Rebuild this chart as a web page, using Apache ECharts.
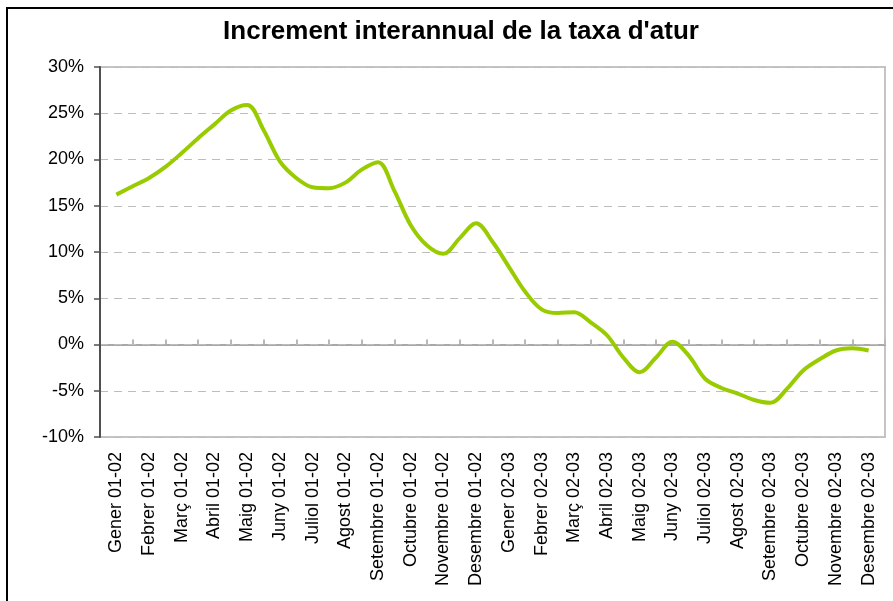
<!DOCTYPE html>
<html>
<head>
<meta charset="utf-8">
<script src="https://cdn.jsdelivr.net/npm/echarts@6/dist/echarts.min.js"></script>
<style>
html,body{margin:0;padding:0;background:#fff;}
#chart{width:893px;height:601px;}
</style>
</head>
<body>
<div id="chart"></div>
<script>
// Month labels (category axis)
var months = [
  "Gener 01-02","Febrer 01-02","Març 01-02","Abril 01-02","Maig 01-02","Juny 01-02",
  "Juliol 01-02","Agost 01-02","Setembre 01-02","Octubre 01-02","Novembre 01-02","Desembre 01-02",
  "Gener 02-03","Febrer 02-03","Març 02-03","Abril 02-03","Maig 02-03","Juny 02-03",
  "Juliol 02-03","Agost 02-03","Setembre 02-03","Octubre 02-03","Novembre 02-03","Desembre 02-03"
];
// Values (%) read every half month, starting at "Gener 01-02"
var increment = [
  16.2, 17.1, 18.0, 19.2, 20.7, 22.3, 23.8, 25.3, 25.9, 23.2,
  19.8, 18.0, 17.0, 16.9, 17.5, 18.9, 19.7, 16.6, 12.9, 10.7,
  9.8, 11.5, 13.1, 11.1, 8.4, 5.7, 3.8, 3.4, 3.5, 2.4,
  1.0, -1.4, -3.0, -1.4, 0.3, -1.2, -3.7, -4.7, -5.3, -6.0,
  -6.3, -4.8, -2.8, -1.6, -0.65, -0.4, -0.65
];
var yTicks = { min: -10, max: 30, step: 5 };
var pointsPerMonth = 2;

var lineData = increment.map(function (v, k) { return [k / pointsPerMonth, v]; });

var chart = echarts.init(document.getElementById('chart'), null, { renderer: 'canvas' });
var font = 'Liberation Sans, Arial, sans-serif';
chart.setOption({
  backgroundColor: '#ffffff',
  animation: false,
  title: {
    text: "Increment interannual de la taxa d'atur",
    left: 456,
    textAlign: 'center',
    top: 14,
    textStyle: { fontFamily: font, fontWeight: 'bold', fontSize: 26, color: '#000' }
  },
  graphic: [{
    type: 'rect',
    shape: { x: 7, y: 8, width: 1000, height: 1000 },
    style: { fill: 'none', stroke: '#000', lineWidth: 2 },
    silent: true
  }],
  grid: {
    left: 100, right: 8, top: 67, bottom: 164, z: 0,
    show: true, borderColor: '#c4c4c4', borderWidth: 2, backgroundColor: 'transparent'
  },
  xAxis: [{
    type: 'category',
    data: months,
    position: 'bottom',
    boundaryGap: true,
    axisLine: { show: false, onZero: false },
    axisTick: { show: false },
    axisLabel: { rotate: 90, margin: 15, fontFamily: font, fontSize: 18, color: '#000', interval: 0 },
    splitLine: { show: false }
  }, {
    type: 'category',
    data: months,
    position: 'bottom',
    boundaryGap: true,
    z: 3,
    axisLine: { show: true, onZero: true, lineStyle: { color: '#8c8c8c', width: 1.5 } },
    axisTick: { show: true, inside: true, length: 5, interval: 0, lineStyle: { color: '#b8b8b8', width: 2 } },
    axisLabel: { show: false },
    splitLine: { show: false }
  }, {
    type: 'value',
    position: 'top',
    min: -0.5,
    max: months.length - 0.5,
    show: false
  }],
  yAxis: {
    type: 'value',
    z: 4,
    min: yTicks.min, max: yTicks.max, interval: yTicks.step,
    axisLine: { show: true, onZero: false, lineStyle: { color: '#505050', width: 2 } },
    axisTick: { show: true, length: 6, lineStyle: { color: '#505050', width: 1.5 } },
    axisLabel: { margin: 16, fontFamily: font, fontSize: 18, color: '#000', formatter: '{value}%' },
    splitLine: { show: true, lineStyle: { color: '#bdbdbd', width: 1, type: [8, 6] } }
  },
  series: [{
    type: 'line',
    xAxisIndex: 2,
    data: lineData,
    smooth: 0.35,
    symbol: 'none',
    lineStyle: { color: '#99CC00', width: 4 },
    z: 5
  }]
});
</script>
</body>
</html>
